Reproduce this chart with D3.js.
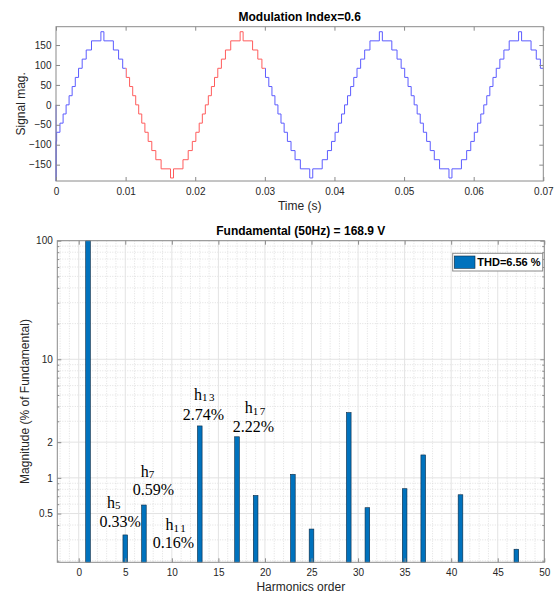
<!DOCTYPE html>
<html lang="en">
<head>
<meta charset="UTF-8">
<title>Modulation Index 0.6 - harmonic spectrum</title>
<script src="https://d3js.org/d3.v7.min.js"></script>
<style>
  body { margin: 0; background: #fff; }
  svg { display: block; font-family: "Liberation Sans", Arial, sans-serif; }
</style>
</head>
<body>
<div id="chart"></div>
<script>
// ---- top plot: staircase inverter output (time in ms, volts) ----
const waveT = [
  0, 0.01, 0.02, 0.09, 0.57, 1.02, 1.45, 1.88, 2.32, 2.77, 3.24, 3.76, 4.34, 5.10, 6.45, 6.88, 8.24, 8.99, 9.58,
  10.09, 10.57, 11.02, 11.45, 11.88, 12.32, 12.77, 13.24, 13.76, 14.34, 15.10, 16.45, 16.88, 18.24, 18.99, 19.58,
  20.09, 20.57, 21.02, 21.45, 21.88, 22.32, 22.77, 23.24, 23.76, 24.34, 25.10, 26.45, 26.88, 28.24, 28.99, 29.58,
  30.09, 30.57, 31.02, 31.45, 31.88, 32.32, 32.77, 33.24, 33.76, 34.34, 35.10, 36.45, 36.88, 38.24, 38.99, 39.58,
  40.09, 40.57, 41.02, 41.45, 41.88, 42.32, 42.77, 43.24, 43.76, 44.34, 45.10, 46.45, 46.88, 48.24, 48.99, 49.58,
  50.09, 50.57, 51.02, 51.45, 51.88, 52.32, 52.77, 53.24, 53.76, 54.34, 55.10, 56.45, 56.88, 58.24, 58.99, 59.58,
  60.09, 60.57, 61.02, 61.45, 61.88, 62.32, 62.77, 63.24, 63.76, 64.34, 65.10, 66.45, 66.88, 68.24, 68.99, 69.58, 70
];
const waveV = [
  0, -191, -91.7, -68.8, -45.9, -22.9, 0, 22.9, 45.9, 68.8, 91.7, 114.7, 137.6, 160.5, 183.4, 160.5, 137.6, 114.7, 91.7,
  68.8, 45.9, 22.9, 0, -22.9, -45.9, -68.8, -91.7, -114.7, -137.6, -160.5, -183.4, -160.5, -137.6, -114.7, -91.7,
  -68.8, -45.9, -22.9, 0, 22.9, 45.9, 68.8, 91.7, 114.7, 137.6, 160.5, 183.4, 160.5, 137.6, 114.7, 91.7,
  68.8, 45.9, 22.9, 0, -22.9, -45.9, -68.8, -91.7, -114.7, -137.6, -160.5, -183.4, -160.5, -137.6, -114.7, -91.7,
  -68.8, -45.9, -22.9, 0, 22.9, 45.9, 68.8, 91.7, 114.7, 137.6, 160.5, 183.4, 160.5, 137.6, 114.7, 91.7,
  68.8, 45.9, 22.9, 0, -22.9, -45.9, -68.8, -91.7, -114.7, -137.6, -160.5, -183.4, -160.5, -137.6, -114.7, -91.7,
  -68.8, -45.9, -22.9, 0, 22.9, 45.9, 68.8, 91.7, 114.7, 137.6, 160.5, 183.4, 160.5, 137.6, 114.7, 91.7, 91.7
];
const redCycle = [10, 30];   // one cycle highlighted in red (ms)
const timeTicks = [0, 10, 20, 30, 40, 50, 60, 70];
const timeTickLabels = ["0", "0.01", "0.02", "0.03", "0.04", "0.05", "0.06", "0.07"];
const signalTicks = [-150, -100, -50, 0, 50, 100, 150];

// ---- bottom plot: harmonic spectrum (% of fundamental) ----
const harmonicOrder = [1, 5, 7, 11, 13, 17, 19, 23, 25, 29, 31, 35, 37, 41, 47];
const harmonicMag = [100, 0.33, 0.59, 0.16, 2.74, 2.22, 0.71, 1.07, 0.37, 3.55, 0.56, 0.81, 1.56, 0.72, 0.25];
const orderTicks = [0, 5, 10, 15, 20, 25, 30, 35, 40, 45, 50];
const magTicks = [0.5, 1, 2, 10, 100];
const magTickLabels = ["0.5", "1", "2", "10", "100"];
const labelOrder = [5, 7, 11, 13, 17];
const labelPct = ["0.33%", "0.59%", "0.16%", "2.74%", "2.22%"];
const thdText = "THD=6.56 %";

const W = 559, H = 594;
const frame = "#8a8a8a", ink = "#262626", barBlue = "#0072BD";

const svg = d3.select("#chart").append("svg")
    .attr("width", W)
    .attr("height", H);

function styleAxis(g) {
    g.select(".domain").remove();
    g.selectAll(".tick line").attr("stroke", frame);
    g.selectAll(".tick text").attr("fill", ink).attr("font-size", 10)
        .attr("font-family", "Liberation Sans, Arial, sans-serif");
}

// ================= top plot =================
const p1 = {l: 56, r: 543.3, t: 26.7, b: 181};
const x1 = d3.scaleLinear().domain([0, 70]).range([p1.l, p1.r]);
const y1 = d3.scaleLinear().domain([-191, 196]).range([p1.b, p1.t]);

const defs = svg.append("defs");
defs.append("clipPath").attr("id", "clipRed").append("rect")
    .attr("x", x1(redCycle[0])).attr("y", p1.t - 5)
    .attr("width", x1(redCycle[1]) - x1(redCycle[0])).attr("height", p1.b - p1.t + 10);
const blueClip = defs.append("clipPath").attr("id", "clipBlue");
blueClip.append("rect").attr("x", p1.l - 2).attr("y", p1.t - 5)
    .attr("width", x1(redCycle[0]) - p1.l + 2).attr("height", p1.b - p1.t + 10);
blueClip.append("rect").attr("x", x1(redCycle[1])).attr("y", p1.t - 5)
    .attr("width", p1.r - x1(redCycle[1]) + 2).attr("height", p1.b - p1.t + 10);

const wave = waveT.map((t, i) => [t, waveV[i]]);
const stepLine = d3.line()
    .x(d => x1(d[0]))
    .y(d => y1(d[1]))
    .curve(d3.curveStepAfter);

svg.append("path").datum(wave)
    .attr("d", stepLine)
    .attr("fill", "none")
    .attr("stroke", "#5c5cff")
    .attr("stroke-width", 1)
    .attr("clip-path", "url(#clipBlue)");
svg.append("path").datum(wave)
    .attr("d", stepLine)
    .attr("fill", "none")
    .attr("stroke", "#ff5c5c")
    .attr("stroke-width", 1)
    .attr("clip-path", "url(#clipRed)");

svg.append("g").attr("transform", `translate(0,${p1.b})`)
    .call(d3.axisBottom(x1).tickValues(timeTicks).tickSize(-4).tickPadding(7)
        .tickFormat((d, i) => timeTickLabels[i]))
    .call(styleAxis);
svg.append("g").attr("transform", `translate(0,${p1.t})`)
    .call(d3.axisTop(x1).tickValues(timeTicks).tickSize(-4).tickFormat(""))
    .call(styleAxis);
svg.append("g").attr("transform", `translate(${p1.l},0)`)
    .call(d3.axisLeft(y1).tickValues(signalTicks).tickSize(-4).tickPadding(4.5))
    .call(styleAxis);
svg.append("g").attr("transform", `translate(${p1.r},0)`)
    .call(d3.axisRight(y1).tickValues(signalTicks).tickSize(-4).tickFormat(""))
    .call(styleAxis);

svg.append("rect")
    .attr("x", p1.l).attr("y", p1.t)
    .attr("width", p1.r - p1.l).attr("height", p1.b - p1.t)
    .attr("fill", "none").attr("stroke", frame).attr("stroke-width", 1);

svg.append("text")
    .attr("x", (p1.l + p1.r) / 2).attr("y", 20.5)
    .attr("text-anchor", "middle").attr("font-weight", "bold").attr("font-size", 12)
    .attr("fill", "#000")
    .text("Modulation Index=0.6");
svg.append("text")
    .attr("x", (p1.l + p1.r) / 2).attr("y", 210)
    .attr("text-anchor", "middle").attr("font-size", 12).attr("fill", ink)
    .text("Time (s)");
svg.append("text")
    .attr("transform", `translate(21,${(p1.t + p1.b) / 2}) rotate(-90)`)
    .attr("dy", "0.35em")
    .attr("text-anchor", "middle").attr("font-size", 12).attr("fill", ink)
    .text("Signal mag.");

// ================= bottom plot =================
const p2 = {l: 57.3, r: 544.3, t: 240.7, b: 562.3};
const x2 = d3.scaleLinear().domain([-2.3, 50]).range([p2.l, p2.r]);
const y2 = d3.scaleLog().domain([0.194, 100]).range([p2.b, p2.t]);

// grid
const minorX = d3.range(-2, 51).filter(v => v % 5 !== 0);
const minorY = [];
[0.1, 1, 10].forEach(dec => {
    for (let k = 2; k <= 9; k++) {
        const v = +(k * dec).toPrecision(3);
        if (v > 0.194 && v < 100 && !magTicks.includes(v)) minorY.push(v);
    }
});

const grid = svg.append("g");
grid.selectAll(".gx").data(minorX).enter().append("line")
    .attr("x1", d => x2(d)).attr("x2", d => x2(d))
    .attr("y1", p2.t).attr("y2", p2.b)
    .attr("stroke", "#d2d2d2").attr("stroke-width", 0.7).attr("stroke-dasharray", "1,1.5");
grid.selectAll(".gy").data(minorY).enter().append("line")
    .attr("x1", p2.l).attr("x2", p2.r)
    .attr("y1", d => y2(d)).attr("y2", d => y2(d))
    .attr("stroke", "#d2d2d2").attr("stroke-width", 0.7).attr("stroke-dasharray", "1,1.5");
grid.selectAll(".mx").data(orderTicks).enter().append("line")
    .attr("x1", d => x2(d)).attr("x2", d => x2(d))
    .attr("y1", p2.t).attr("y2", p2.b)
    .attr("stroke", "#e3e3e3").attr("stroke-width", 1);
grid.selectAll(".my").data(magTicks).enter().append("line")
    .attr("x1", p2.l).attr("x2", p2.r)
    .attr("y1", d => y2(d)).attr("y2", d => y2(d))
    .attr("stroke", "#e3e3e3").attr("stroke-width", 1);

// bars
const barW = x2(0.5) - x2(0);
const spectrum = harmonicOrder.map((h, i) => ({h: h, v: harmonicMag[i]}))
    .filter(d => d.v > y2.domain()[0]);
svg.selectAll(".bar").data(spectrum).enter().append("rect")
    .attr("class", "bar")
    .attr("x", d => x2(d.h) - barW / 2)
    .attr("y", d => y2(d.v))
    .attr("width", barW)
    .attr("height", d => p2.b - y2(d.v))
    .attr("fill", barBlue)
    .attr("stroke", "#0b2a44")
    .attr("stroke-width", 0.6);

// axes
svg.append("g").attr("transform", `translate(0,${p2.b})`)
    .call(d3.axisBottom(x2).tickValues(orderTicks).tickSize(-4).tickPadding(7))
    .call(styleAxis);
svg.append("g").attr("transform", `translate(0,${p2.t})`)
    .call(d3.axisTop(x2).tickValues(orderTicks).tickSize(-4).tickFormat(""))
    .call(styleAxis);
svg.append("g").attr("transform", `translate(${p2.l},0)`)
    .call(d3.axisLeft(y2).tickValues(magTicks).tickSize(-4).tickPadding(4.5)
        .tickFormat((d, i) => magTickLabels[i]))
    .call(styleAxis);
svg.append("g").attr("transform", `translate(${p2.l},0)`)
    .call(d3.axisLeft(y2).tickValues(minorY).tickSize(-2).tickFormat(""))
    .call(styleAxis);
svg.append("g").attr("transform", `translate(${p2.r},0)`)
    .call(d3.axisRight(y2).tickValues(magTicks).tickSize(-4).tickFormat(""))
    .call(styleAxis);
svg.append("g").attr("transform", `translate(${p2.r},0)`)
    .call(d3.axisRight(y2).tickValues(minorY).tickSize(-2).tickFormat(""))
    .call(styleAxis);

svg.append("rect")
    .attr("x", p2.l).attr("y", p2.t)
    .attr("width", p2.r - p2.l).attr("height", p2.b - p2.t)
    .attr("fill", "none").attr("stroke", frame).attr("stroke-width", 1);

// annotations: name/percent anchors in data units (order, magnitude)
const nameAnchor = [[3.84, 0.557], [7.47, 1.02], [10.49, 0.362], [13.56, 4.54], [19.0, 3.52]];
const pctAnchor = [[4.44, 0.385], [8.01, 0.717], [10.16, 0.254], [13.38, 3.08], [18.77, 2.44]];
const notes = svg.append("g")
    .attr("font-family", "Liberation Serif, 'Times New Roman', serif")
    .attr("fill", "#000");
labelOrder.forEach((h, i) => {
    const t = notes.append("text")
        .attr("x", x2(nameAnchor[i][0]))
        .attr("y", y2(nameAnchor[i][1]))
        .attr("text-anchor", "middle")
        .attr("font-size", 16);
    t.append("tspan").text("h");
    t.append("tspan").attr("font-size", 11).attr("dy", 1.5).attr("letter-spacing", 1.5).text(h);
    notes.append("text")
        .attr("x", x2(pctAnchor[i][0]))
        .attr("y", y2(pctAnchor[i][1]))
        .attr("text-anchor", "middle")
        .attr("font-size", 16)
        .text(labelPct[i]);
});

// legend
const lg = svg.append("g").attr("transform", `translate(${p2.r - 91.6},${p2.t + 12.6})`);
lg.append("rect").attr("width", 90).attr("height", 17.7)
    .attr("fill", "#fff").attr("stroke", frame).attr("stroke-width", 1);
lg.append("rect").attr("x", 1.6).attr("y", 2.7).attr("width", 20.7).attr("height", 12.3)
    .attr("fill", barBlue).attr("stroke", "#0b2a44").attr("stroke-width", 0.6);
lg.append("text").attr("x", 24.6).attr("y", 13.2)
    .attr("font-size", 11).attr("font-weight", "bold").attr("fill", "#000")
    .text(thdText);

svg.append("text")
    .attr("x", (p2.l + p2.r) / 2).attr("y", 235)
    .attr("text-anchor", "middle").attr("font-weight", "bold").attr("font-size", 12)
    .attr("fill", "#000")
    .text("Fundamental (50Hz) = 168.9 V");
svg.append("text")
    .attr("x", (p2.l + p2.r) / 2).attr("y", 591)
    .attr("text-anchor", "middle").attr("font-size", 12).attr("fill", ink)
    .text("Harmonics order");
svg.append("text")
    .attr("transform", `translate(25,${(p2.t + p2.b) / 2}) rotate(-90)`)
    .attr("dy", "0.35em")
    .attr("text-anchor", "middle").attr("font-size", 12).attr("fill", ink)
    .text("Magnitude (% of Fundamental)");
</script>
</body>
</html>
